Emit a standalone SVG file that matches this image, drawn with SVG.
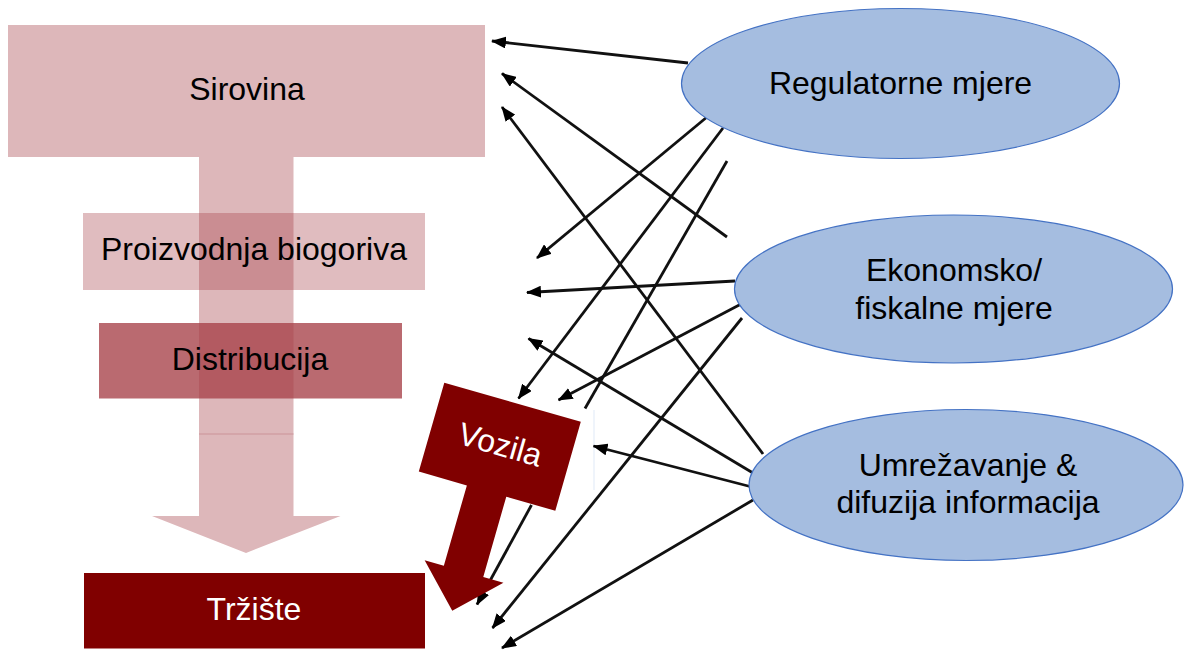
<svg xmlns="http://www.w3.org/2000/svg" width="1186" height="652" viewBox="0 0 1186 652">
<style>
  .lbl { font-family: "Liberation Sans", Arial, sans-serif; font-size: 32px; fill: #000; text-anchor: middle; }
  .wlbl { font-family: "Liberation Sans", Arial, sans-serif; font-size: 32px; fill: #fff; text-anchor: middle; }
  .ell { fill: #a5bde0; stroke: #4472c4; stroke-width: 1.2; }
  .con { stroke: #111; stroke-width: 2.8; fill: none; }
  .arr { marker-end: url(#ah); }
</style>
<defs>
  <marker id="ah" markerUnits="userSpaceOnUse" markerWidth="15" markerHeight="12" viewBox="0 0 15 12" refX="14" refY="6" orient="auto">
    <path d="M0,0 L15,6 L0,12 Z" fill="#000"/>
  </marker>
</defs>
<rect width="1186" height="652" fill="#fff"/>

<g id="sirovina">
  <rect x="8" y="25" width="477" height="132" fill="#ddb7ba"/>
  <text class="lbl" x="247" y="100">Sirovina</text>
</g>

<g id="flow-arrow">
  <path d="M199,157 L293.5,157 L293.5,516 L340.5,516 L246,553 L152,516 L199,516 Z" fill="#ddb7ba"/>
  <line x1="199" y1="434" x2="293.5" y2="434" stroke="#cb9398" stroke-width="1.2"/>
</g>

<g id="proizvodnja">
  <rect x="83" y="213" width="342" height="77" fill="#a64048" fill-opacity="0.35"/>
  <text class="lbl" x="254" y="260">Proizvodnja biogoriva</text>
</g>

<g id="distribucija">
  <rect x="99" y="323" width="303" height="75.5" fill="#a64048" fill-opacity="0.78"/>
  <text class="lbl" x="250" y="370">Distribucija</text>
</g>

<g id="trziste">
  <rect x="84" y="573" width="341" height="75.5" fill="#800000"/>
  <text class="wlbl" x="254" y="620">Tržište</text>
</g>

<line x1="594" y1="410" x2="594" y2="490" stroke="#e4edf8" stroke-width="1.2"/>

<g id="connectors">
  <line class="con arr" x1="688" y1="63" x2="492" y2="41"/>
  <line class="con arr" x1="707" y1="117" x2="537" y2="258"/>
  <line class="con arr" x1="723" y1="128" x2="518.5" y2="398.5"/>
  <line class="con" x1="727" y1="161" x2="585" y2="408.5"/>
  <line class="con arr" x1="531.5" y1="505" x2="477" y2="604.5"/>
  <line class="con arr" x1="727" y1="237" x2="502" y2="73.5"/>
  <line class="con arr" x1="763" y1="454" x2="502" y2="107"/>
  <line class="con arr" x1="735" y1="281" x2="527" y2="292.5"/>
  <line class="con arr" x1="743" y1="303" x2="558.5" y2="400"/>
  <line class="con arr" x1="742" y1="318" x2="492.5" y2="628"/>
  <line class="con arr" x1="753" y1="473" x2="528.5" y2="338.5"/>
  <line class="con arr" x1="752" y1="487" x2="593.5" y2="446"/>
  <line class="con arr" x1="753" y1="500" x2="502" y2="648"/>
</g>

<g id="vozila" transform="translate(444.3,382.7) rotate(16)">
  <polygon points="0,0 142,0 142,92.5 91,92.5 91,176 112,176 70.5,217 30,176 50,176 50,92.5 0,92.5" fill="#800000"/>
  <text class="wlbl" x="71" y="55">Vozila</text>
</g>

<g id="regulatorne">
  <ellipse class="ell" cx="900.5" cy="83.5" rx="219" ry="75"/>
  <text class="lbl" x="900.5" y="94">Regulatorne mjere</text>
</g>

<g id="ekonomsko">
  <ellipse class="ell" cx="953.5" cy="289" rx="219" ry="74"/>
  <text class="lbl" x="954" y="281">Ekonomsko/</text>
  <text class="lbl" x="954" y="319">fiskalne mjere</text>
</g>

<g id="umrezavanje">
  <ellipse class="ell" cx="966" cy="485" rx="217" ry="75.5"/>
  <text class="lbl" x="968" y="476">Umrežavanje &amp;</text>
  <text class="lbl" x="968" y="513">difuzija informacija</text>
</g>
</svg>
